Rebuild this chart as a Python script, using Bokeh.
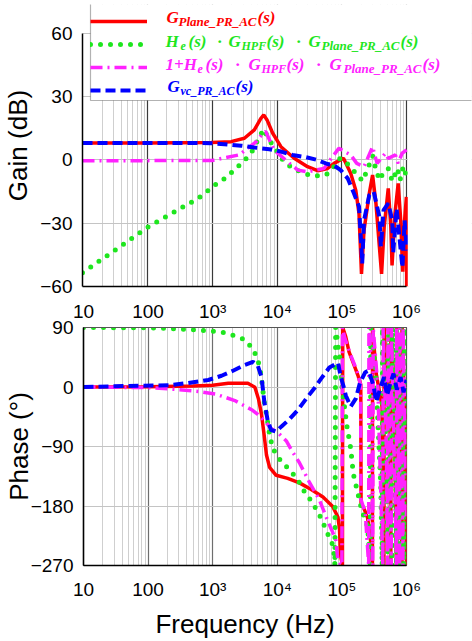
from bokeh.plotting import figure
from bokeh.layouts import column
from bokeh.models import (Range1d, FixedTicker, Legend, LegendItem, Label,
                          LogAxis, BoxAnnotation)
from bokeh.embed import file_html
from bokeh.resources import INLINE

# ---------------- data ----------------
# Gain (dB)
f_red_gain = [10, 100, 966, 1960, 3140, 4470, 5670, 6240, 7020, 8590,
              11500, 18400, 29600, 42200, 60300, 76000, 106000, 137000, 164000, 184000,
              201000, 220000, 265000, 298000, 336000, 380000, 410000, 450000, 520000, 570000,
              595000, 660000, 740000, 810000, 870000, 930000, 990000, 1000000]
g_red = [8.1, 8.1, 8.3, 8.7, 10.3, 14.3, 19.8, 21.4, 19.0, 12.7,
         6.3, 0.8, -3.2, -5.1, -4.0, -1.6, 0.8, -6.3, -14.3, -25.4,
         -54.0, -33.3, -15.9, -7.1, -20.6, -41.3, -54.0, -31.7, -13.5, -31.7,
         -50.0, -25.4, -11.1, -28.6, -53.0, -28.6, -17.5, -60.0]

f_green_gain = [10, 14.6, 103, 600, 855, 1150, 1640, 2200, 3100, 4100,
                5000, 6200, 7900, 12600, 17400, 25000, 35000, 57000, 72000, 94000,
                120000, 210000, 300000, 330000, 380000, 450000, 520000, 600000, 720000, 790000,
                890000, 970000, 1000000]
g_green = [-53.5, -50.0, -31.7, -18.3, -14.6, -11.4, -8.3, -4.6, -0.5, 4.0,
           9.2, 14.6, 8.7, -0.5, -4.0, -6.0, -7.6, -7.1, -4.0, 0.8,
           -1.6, -10.0, 1.9, -3.7, -9.5, -5.2, -4.0, -10.0, -4.0, -9.5,
           -2.9, -6.7, -5.0]

f_mag_gain = [10, 100, 1000, 1200, 2600, 4800, 6000, 6700, 9000, 14500,
              21000, 29600, 53000, 90000, 137000, 170000, 220000, 298000, 350000, 470000,
              520000, 670000, 740000, 850000, 1000000]
g_mag = [-0.3, -0.3, -0.2, 0.3, 2.4, 8.7, 12.5, 13.5, 4.8, -0.8,
         -4.8, -5.6, -4.0, 5.6, 2.4, -1.6, -3.2, 6.3, -1.6, 3.2,
         0.8, 2.4, -1.6, 3.2, 4.8]

f_blue_gain = [10, 100, 966, 1540, 2800, 4470, 7600, 11500, 17400, 28000,
               42000, 60000, 75000, 96000, 123000, 150000, 184000, 200000, 206000, 220000,
               265000, 310000, 380000, 400000, 440000, 520000, 600000, 620000, 700000, 810000,
               860000, 930000, 1000000]
g_blue = [8.1, 8.1, 8.0, 7.5, 6.8, 5.9, 5.1, 4.0, 2.4, 1.3,
          0.0, -1.9, -2.5, -4.8, -8.7, -15.0, -22.0, -41.0, -49.0, -28.6,
          -16.7, -15.0, -27.0, -41.0, -23.8, -20.6, -28.6, -44.0, -23.0, -43.0,
          -51.0, -28.6, -43.0]

# Phase (deg)
f_red_ph = [10, 100, 500, 1000, 1740, 3500, 4500, 5100, 5700, 6200,
            6800, 7600, 9600, 14500, 22000, 33000, 51000, 72000, 87000, 92000,
            95000, 102000, 103000, 114000, 129000, 153000, 177000, 196000, 198000, 220000,
            250000, 280000, 297000, 298000, 340000, 420000, 447000, 450000, 500000, 555000,
            568000, 572000, 640000, 700000, 705000, 780000, 850000, 855000, 940000, 1000000]
p_red = [0, 0.5, 1.5, 2.6, 5.6, 5.6, -0.5, -17.7, -41.4, -69.7,
         -102.8, -121.6, -133.5, -138.2, -145, -154.8, -166.5, -180.7, -197, -216,
         -254, -270, 90, 76.8, 53, 34.3, 17.7, 3.5, -175, -184,
         -198, -235, -270, 90, 20, -30, -270, 90, 10, -60,
         -270, 90, 0, -270, 90, -20, -270, 90, -40, -270]

f_green_ph = [10, 81, 208, 600, 900, 1370, 2100, 3100, 4200, 5000,
              5500, 5900, 6200, 6800, 7600, 8500, 11000, 15000, 20500, 25000,
              31000, 39000, 49000, 57000, 70000, 76000, 78000, 80000, 88000, 96000,
              100000, 120000, 137000, 150000, 205000, 250000, 260000, 275000, 280000, 330000,
              400000, 420000, 425000, 480000, 520000, 525000, 590000, 600000, 605000, 680000,
              700000, 705000, 790000, 800000, 805000, 900000, 910000, 915000, 1000000]
p_green = [90, 89.5, 88.6, 86.2, 84.8, 83, 78, 72, 57.8, 41.4,
           22.4, 1.1, -20, -41.4, -72, -93, -110, -124, -139, -155,
           -167.6, -183, -200.5, -217.5, -235, -254, -270, 90, 60, 34,
           1, -60, -93, -131, -188, -211, -235, -270, 90, 30,
           -150, -270, 90, -100, -270, 90, -200, -270, 90, -120,
           -270, 90, -80, -270, 90, -150, -270, 90, -100]

f_mag_ph = [10, 100, 263, 600, 1100, 2200, 4000, 5000, 6300, 8000,
            10400, 13800, 16600, 22000, 31000, 45000, 60000, 80000, 87000, 100000,
            102000, 110000, 137000, 170000, 195000, 197000, 230000, 260000, 262000, 290000,
            300000, 305000, 360000, 430000, 435000, 490000, 510000, 515000, 580000, 585000,
            660000, 700000, 705000, 780000, 785000, 880000, 885000, 1000000]
p_mag = [0, -1, -3.5, -6.8, -10.6, -20.5, -34.3, -41.4, -50.7, -62.6,
         -69.7, -81.5, -95.7, -114.5, -143, -171, -202, -230, -263, -270,
         90, 75, 48, 25, 3, -170, -190, -270, 90, 30,
         -270, 90, 0, -270, 90, -100, -270, 90, -270, 90,
         -150, -270, 90, -270, 90, -270, 90, -200]

f_blue_ph = [10, 81, 208, 420, 855, 1370, 2100, 3100, 4200, 5000,
             5700, 6300, 7100, 8000, 9600, 11500, 15500, 21000, 28000, 38000,
             48000, 64000, 87000, 96000, 106000, 115000, 137000, 164000, 190000, 230000,
             260000, 310000, 340000, 400000, 450000, 500000, 570000, 630000, 710000, 810000,
             900000, 1000000]
p_blue = [0, 2, 2.6, 6, 10.6, 17, 25, 33.3, 38, 32,
          15.3, -22.4, -50.7, -65, -67.3, -60, -48.5, -34.3, -17.7, -1.1,
          13, 29.5, 36.6, 15.3, 1.1, -13, -29.5, -17.7, 6, 22.4,
          24.8, 1.1, -22.4, 1, 15, -13, 8, 20, -4, 15,
          -8, 10.6]

FREQ_TICKS = [10, 100, 1000, 10000, 100000, 1000000]
FREQ_LABELS = ["10", "100", "10\u00b3", "10\u2074", "10\u2075", "10\u2076"]
GAIN_TICKS = [-60, -30, 0, 30, 60]
PHASE_TICKS = [-270, -180, -90, 0, 90]

RED, GREEN, MAG, BLUE = "#ff0000", "#1ee61e", "#ff22ff", "#0000ff"
SANS = "Liberation Sans"
SERIF = "Liberation Serif"

minor = [m * 10 ** k for k in range(1, 6) for m in range(2, 10)]
overrides = {}
for t, l in zip(FREQ_TICKS, FREQ_LABELS):
    overrides[t] = l


def style_axis(ax):
    ax.major_tick_line_color = None
    ax.minor_tick_line_color = None
    ax.axis_line_color = "black"
    ax.axis_line_width = 1.5
    ax.major_label_text_font = SANS
    ax.major_label_text_font_size = "19px"
    ax.major_label_text_color = "black"
    ax.axis_label_text_font = SANS
    ax.axis_label_text_font_size = "26px"
    ax.axis_label_text_font_style = "normal"
    ax.axis_label_text_color = "black"


def style(p, yticks, decade_color):
    p.yaxis.ticker = FixedTicker(ticks=yticks)
    p.xgrid.ticker = FixedTicker(ticks=FREQ_TICKS, minor_ticks=minor)
    p.xgrid.grid_line_color = decade_color
    p.xgrid.minor_grid_line_color = "#cfcfcf"
    p.xgrid.grid_line_width = 1.2
    p.ygrid.grid_line_color = "#c4c4c4"
    style_axis(p.below[0])
    style_axis(p.left[0])
    p.left[0].major_label_standoff = 4
    p.background_fill_color = "white"
    p.border_fill_color = "white"
    p.frame_align = False


# ---------------- gain panel ----------------
# frame spans past 10^6 / above 60 dB so that the legend can overlap as in the reference
p1 = figure(width=472, height=297, x_axis_type="log",
            x_range=Range1d(10, 1e7), y_range=Range1d(-60, 73.75),
            output_backend="svg", toolbar_location=None,
            min_border_left=81, min_border_right=1,
            min_border_top=4, min_border_bottom=11)
style(p1, GAIN_TICKS, "#3a3a3a")
p1.outline_line_color = None
p1.left[0].bounds = (-60, 60)
p1.below[0].bounds = (10, 1e6)
p1.below[0].ticker = FixedTicker(ticks=[])
p1.below[0].major_label_standoff = 0
p1.left[0].axis_label = "Gain (dB)"
p1.left[0].axis_label_standoff = 4

r1 = p1.line(f_red_gain, g_red, line_color=RED, line_width=3.5)
r2 = p1.line(f_green_gain, g_green, line_color=GREEN, line_width=5,
             line_dash="0 10", line_cap="round")
r3 = p1.line(f_mag_gain, g_mag, line_color=MAG, line_width=3.5,
             line_dash="12 5 2 5")
r4 = p1.line(f_blue_gain, g_blue, line_color=BLUE, line_width=4,
             line_dash="10 5")

# blank area right of the 10^6 edge
p1.add_layout(BoxAnnotation(left=1.04e6, fill_color="white", fill_alpha=1.0,
                            line_color=None))
# legend box (opaque white with black border)
p1.add_layout(BoxAnnotation(left=8, right=390, bottom=186, top=283,
                            left_units="screen", right_units="screen",
                            bottom_units="screen", top_units="screen",
                            fill_color="white", fill_alpha=1.0,
                            line_color="black", line_width=1.2))

legend = Legend(items=[LegendItem(label=" ", renderers=[r]) for r in (r1, r2, r3, r4)],
                location=(8, 186), orientation="vertical",
                glyph_width=57, glyph_height=20, label_height=20,
                label_width=312, label_standoff=5, padding=4, spacing=3,
                border_line_color=None, background_fill_alpha=0.0,
                label_text_font_size="12px")
p1.add_layout(legend)

# legend texts: (text, left x in px, font size in px, is subscript)
ROWS = [
    (17, RED, [("G", 165, 17, 0), ("Plane_PR_AC", 177, 13, 1), ("(s)", 256, 17, 0)]),
    (41, GREEN, [("H", 164, 17, 0), ("e", 179, 12, 1), ("(s)", 187, 17, 0),
                 ("\u00b7", 216, 17, 0),
                 ("G", 227, 17, 0), ("HPF", 240, 12, 1), ("(s)", 265, 17, 0),
                 ("\u00b7", 295, 17, 0),
                 ("G", 307, 17, 0), ("Plane_PR_AC", 320, 13, 1), ("(s)", 399, 17, 0)]),
    (64, MAG, [("1+H", 164, 17, 0), ("e", 196, 12, 1), ("(s)", 204, 17, 0),
               ("\u00b7", 234, 17, 0),
               ("G", 247, 17, 0), ("HPF", 260, 12, 1), ("(s)", 285, 17, 0),
               ("\u00b7", 315, 17, 0),
               ("G", 328, 17, 0), ("Plane_PR_AC", 342, 13, 1), ("(s)", 421, 17, 0)]),
    (86, BLUE, [("G", 166, 17, 0), ("vc_PR_AC", 179, 12, 1), ("(s)", 234, 17, 0)]),
]
for yc, col, pieces in ROWS:
    for txt, X, fs, sub in pieces:
        p1.add_layout(Label(x=X - 81, y=286 - (yc + (4 if sub else 0)),
                            x_units="screen", y_units="screen", text=txt,
                            text_color=col, text_font=SERIF,
                            text_font_style="bold italic",
                            text_font_size=f"{fs}px",
                            text_baseline="middle", text_align="left",
                            level="overlay"))

# ---------------- phase panel ----------------
p2 = figure(width=472, height=344, x_axis_type="log",
            x_range=Range1d(10, 1e6), y_range=Range1d(-270, 90),
            output_backend="svg", toolbar_location=None,
            min_border_left=81, min_border_right=66,
            min_border_top=22, min_border_bottom=68)
style(p2, PHASE_TICKS, "#6e6e6e")
p2.outline_line_color = "#555555"
p2.outline_line_width = 1.2
bottom_ax = p2.below[0]
bottom_ax.ticker = FixedTicker(ticks=FREQ_TICKS, minor_ticks=minor)
bottom_ax.major_label_overrides = overrides
bottom_ax.major_label_standoff = 7
bottom_ax.axis_label = "Frequency (Hz)"
bottom_ax.axis_label_standoff = 6
top_ax = LogAxis(ticker=FixedTicker(ticks=FREQ_TICKS), major_label_overrides=overrides)
style_axis(top_ax)
top_ax.axis_line_color = "#555555"
top_ax.axis_line_width = 1.2
top_ax.major_label_standoff = 0
p2.add_layout(top_ax, "above")
p2.left[0].axis_label = "Phase (\u00b0)"
p2.left[0].axis_label_standoff = -6

p2.line(f_red_ph, p_red, line_color=RED, line_width=3.5)
p2.line(f_green_ph, p_green, line_color=GREEN, line_width=5,
        line_dash="0 10", line_cap="round")
p2.line(f_mag_ph, p_mag, line_color=MAG, line_width=3.5, line_dash="12 5 2 5")
p2.line(f_blue_ph, p_blue, line_color=BLUE, line_width=4, line_dash="10 5")

layout = column(p1, p2, spacing=0)
open("out.html", "w").write(file_html(layout, INLINE))
